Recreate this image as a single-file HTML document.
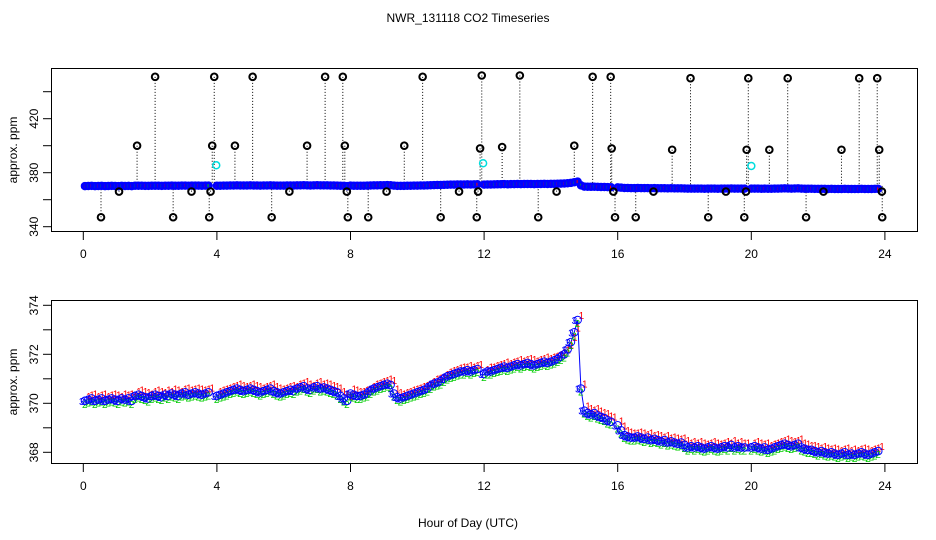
<!DOCTYPE html>
<html><head><meta charset="utf-8"><style>
body{margin:0;background:#fff;}
svg{display:block;font-family:"Liberation Sans",sans-serif;}
</style></head><body>
<svg id="chart" width="936" height="540" viewBox="0 0 936 540">
<rect width="936" height="540" fill="#fff"/>
<text x="468" y="22" text-anchor="middle" font-size="12">NWR_131118  CO2 Timeseries</text>
<text x="468" y="527" text-anchor="middle" font-size="12">Hour of Day (UTC)</text>
<text transform="translate(17,150) rotate(-90)" text-anchor="middle" font-size="12">approx. ppm</text>
<text transform="translate(17,382) rotate(-90)" text-anchor="middle" font-size="12">approx. ppm</text>
<g id="topPanel"></g>
<g id="botPanel"></g>
</svg>
<script>
// ---- data ----
const segStarts = [0.05, 4.0, 8.0, 12.0, 16.0, 20.0];
const segA = [370.1,370.15,370.2,370.1,370.15,370.2,370.1,370.15,370.2,370.15,370.1,370.2,370.15,370.2,370.1,370.3,370.35,370.3,370.25,370.2,370.3,370.35,370.3,370.25,370.35,370.3,370.4,370.35,370.3,370.4,370.45,370.35,370.4,370.45,370.4,370.35,370.4,370.45];
const segB = [370.3,370.35,370.4,370.45,370.5,370.55,370.6,370.55,370.5,370.55,370.6,370.55,370.5,370.45,370.5,370.55,370.6,370.5,370.45,370.4,370.45,370.5,370.55,370.5,370.6,370.65,370.7,370.6,370.55,370.65,370.7,370.6,370.65,370.6,370.55,370.5,370.45,370.3,370.2,370.1];
const segC = [370.4,370.35,370.3,370.3,370.35,370.4,370.5,370.6,370.65,370.7,370.75,370.8,370.75,370.4,370.25,370.2,370.25,370.3,370.35,370.4,370.45,370.5,370.55,370.6,370.7,370.8,370.85,370.9,371.0,371.1,371.15,371.2,371.25,371.3,371.3,371.35,371.3,371.35,371.4];
const segD = [371.2,371.3,371.3,371.35,371.4,371.45,371.5,371.45,371.5,371.55,371.6,371.55,371.6,371.65,371.6,371.55,371.6,371.65,371.7,371.65,371.7,371.75,371.8,371.9,372.0,372.2,372.5,372.9,373.4,370.6,369.7,369.6,369.55,369.6,369.5,369.45,369.4,369.3,369.25];
const segE = [369.1,368.9,368.7,368.65,368.6,368.6,368.65,368.6,368.55,368.6,368.5,368.55,368.5,368.45,368.5,368.4,368.45,368.4,368.35,368.4,368.3,368.2,368.25,368.2,368.25,368.2,368.15,368.2,368.25,368.2,368.15,368.2,368.25,368.2,368.3,368.2,368.25,368.2,368.2];
const segF = [368.2,368.25,368.2,368.15,368.2,368.1,368.15,368.2,368.25,368.3,368.35,368.3,368.25,368.3,368.35,368.2,368.15,368.1,368.1,368.05,368.0,368.05,368.0,367.95,368.0,367.95,367.9,367.95,368.0,367.9,367.95,367.9,367.95,368.0,367.95,367.9,367.95,368.0,368.05];
const segs = [segA, segB, segC, segD, segE, segF];
const outlierHours = [2.15,3.92,5.07,7.24,7.77,10.16,11.93,13.07,15.25,15.79,18.18,19.91,21.09,23.23,23.77,
 1.61,3.86,4.54,6.70,7.83,9.61,11.88,12.54,14.7,15.82,17.63,19.86,20.54,22.7,23.83,
 1.07,3.24,3.81,6.17,7.89,9.08,11.25,11.82,14.17,15.87,17.07,19.24,19.84,22.16,23.91,
 0.53,2.69,3.77,5.64,7.92,8.53,10.7,11.78,13.62,15.92,16.54,18.71,19.79,21.64,23.92];
const outlierValues = [451,451,451,451,451,451,452,452,451,451,450,450,450,450,450,
 400,400,400,400,400,400,398,399,400,398,397,397,397,397,397,
 366,366,366,366,366,366,366,366,366,366,366,366,366,366,366,
 347,347,347,347,347,347,347,347,347,347,347,347,347,347,347];
const cyanHours = [3.98, 11.97, 20.0];
const cyanValues = [385.5, 387, 385];
const xTicks = [0,4,8,12,16,20,24];
const topYTicks = [340,360,380,400,420,440];
const topYLabels = [340,380,420];
const botYTicks = [368,369,370,371,372,373,374];
const botYLabels = [368,370,372,374];

// ---- scales ----
const NS='http://www.w3.org/2000/svg';
const xS = h => 83.3 + h*33.4;
const yTop = v => 226.7 - (v-340)*1.35;
const yBot = v => 403.3 - (v-370)*24.5;
function el(tag, attrs, parent, txt){const e=document.createElementNS(NS,tag);for(const k in attrs)e.setAttribute(k,attrs[k]);if(txt!==undefined)e.textContent=txt;parent.appendChild(e);return e;}

function drawPanel(g, y0, y1, yS, yTicks, yLabels){
  const b=el('rect',{x:51.5,y:y0+0.5,width:866,height:y1-y0,fill:'none',stroke:'#000','stroke-width':1},g);
  
  
  const ax=el('line',{x1:xS(0),x2:xS(24),y1:y1+0.5,y2:y1+0.5,stroke:'#000'},g);
  
  
  xTicks.forEach(t=>{
    const tk=el('line',{x1:xS(t),x2:xS(t),y1:y1,y2:y1+9,stroke:'#000'},g);
    
    
    const tl=el('text',{x:xS(t),y:y1+27,'text-anchor':'middle','font-size':12},g,String(t));
    
    
  });
  yTicks.forEach(t=>{
    const tk=el('line',{x1:43,x2:51.5,y1:yS(t),y2:yS(t),stroke:'#000'},g);
    
    
  });
  yLabels.forEach(t=>{
    const tl=el('text',{transform:`translate(38,${yS(t)}) rotate(-90)`,'text-anchor':'middle','font-size':12},g,String(t));
    
    
  });
}
const topG=document.getElementById('topPanel'), botG=document.getElementById('botPanel');
drawPanel(topG,68,231,yTop,topYTicks,topYLabels);
drawPanel(botG,300,463,yBot,botYTicks,botYLabels);

// top: dotted outlier lines
outlierHours.forEach((h,i)=>{
  const l=el('line',{x1:xS(h),x2:xS(h),y1:yTop(outlierValues[i]),y2:yTop(370.5),stroke:'#000','stroke-width':1,'stroke-dasharray':'1,2'},topG);
  
  
});
// top: dense band
segs.forEach((s,si)=>{
  s.forEach((v,i)=>{
    const h=segStarts[si]+i*0.1;
    const c=el('circle',{cx:xS(h),cy:yTop(v),r:3.5,fill:'#00f',stroke:'#00f','stroke-width':1.5},topG);
    
    
    const d=el('rect',{x:xS(h)-1,y:yTop(v)-1.5,width:1,height:3,fill:(i%2?'#0c0':'#f00')},topG);
    
    
  });
});
outlierHours.forEach((h,i)=>{
  const c=el('circle',{cx:xS(h),cy:yTop(outlierValues[i]),r:3.3,fill:'none',stroke:'#000','stroke-width':2},topG);
  
  
});
cyanHours.forEach((h,i)=>{
  const c=el('circle',{cx:xS(h),cy:yTop(cyanValues[i]),r:3.5,fill:'none',stroke:'#0dd','stroke-width':1.5},topG);
  
  
});

// bottom: series
segs.forEach((s,si)=>{
  const pts=s.map((v,i)=>xS(segStarts[si]+i*0.1)+','+yBot(v)).join(' ');
  const pl=el('polyline',{points:pts,fill:'none',stroke:'#00f','stroke-width':1},botG);
  
  
  s.forEach((v,i)=>{
    const x=xS(segStarts[si]+i*0.1), y=yBot(v);
    const t1=el('text',{x:x+1,y:y-1,'font-size':10,fill:'#f00'},botG,'1');
    
    
    const t2=el('text',{x:x-3,y:y+7,'font-size':10,fill:'#0c0'},botG,'2');
    
    
    const t3=el('text',{x:x-6,y:y+4,'font-size':10,fill:'#00f'},botG,'3');
    
    
    const c=el('circle',{cx:x,cy:y,r:3.8,fill:'none',stroke:'#00f','stroke-width':1},botG);
    
    
  });
});
</script>
</body></html>
